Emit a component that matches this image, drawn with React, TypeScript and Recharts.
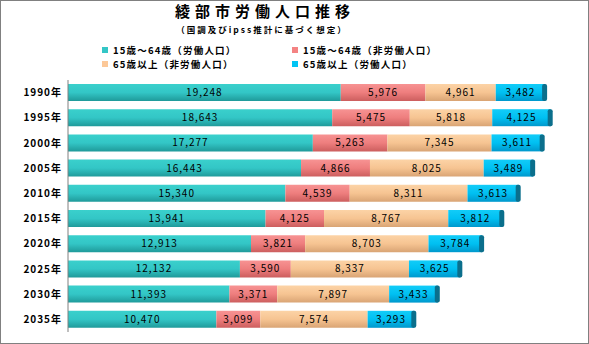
import React from "react";
import { BarChart, Bar, XAxis, YAxis, LabelList } from "recharts";

const years = ["1990年", "1995年", "2000年", "2005年", "2010年", "2015年", "2020年", "2025年", "2030年", "2035年"];
const workingAgeLabor = [19248, 18643, 17277, 16443, 15340, 13941, 12913, 12132, 11393, 10470];
const workingAgeNonLabor = [5976, 5475, 5263, 4866, 4539, 4125, 3821, 3590, 3371, 3099];
const elderlyNonLabor = [4961, 5818, 7345, 8025, 8311, 8767, 8703, 8337, 7897, 7574];
const elderlyLabor = [3482, 4125, 3611, 3489, 3613, 3812, 3784, 3625, 3433, 3293];

const seriesNames = [
  "15歳～64歳（労働人口）",
  "15歳～64歳（非労働人口）",
  "65歳以上（非労働人口）",
  "65歳以上（労働人口）",
];

const data = years.map((y, i) => ({
  year: y,
  a: workingAgeLabor[i],
  b: workingAgeNonLabor[i],
  c: elderlyNonLabor[i],
  d: elderlyLabor[i],
}));

const FONT = '"Noto Sans CJK JP", "Noto Sans", sans-serif';

const fmt = (v: any) => Number(v).toLocaleString("en-US");

const CapShape = (props: any) => {
  const { x, y, width, height } = props;
  return (
    <g>
      <rect x={x} y={y} width={width} height={height} fill="url(#gd)" />
      <rect x={x + width - 3} y={y} width={5} height={height} rx={2} fill="#0B6F8C" />
    </g>
  );
};

const legendItems = [
  { name: seriesNames[0], color: "#33C6C6", left: 102, top: 44 },
  { name: seriesNames[1], color: "#F48383", left: 292, top: 44 },
  { name: seriesNames[2], color: "#FCC898", left: 102, top: 58 },
  { name: seriesNames[3], color: "#00C4F4", left: 292, top: 58 },
];

export default function App() {
  return (
    <div
      style={{
        position: "fixed",
        left: 0,
        top: 0,
        width: 589,
        height: 344,
        background: "#fff",
        fontFamily: FONT,
      }}
    >
      <div
        style={{
          position: "absolute",
          left: 0,
          top: 0,
          width: 587,
          height: 342,
          border: "1px solid #808080",
          pointerEvents: "none",
        }}
      />
      <div
        style={{
          position: "absolute",
          left: 4,
          top: 2,
          width: 522,
          textAlign: "center",
          fontSize: 15,
          fontWeight: 700,
          letterSpacing: 5,
          lineHeight: "18px",
        }}
      >
        綾部市労働人口推移
      </div>
      <div
        style={{
          position: "absolute",
          left: 1,
          top: 24,
          width: 522,
          textAlign: "center",
          fontSize: 8.5,
          fontWeight: 700,
          letterSpacing: 2,
          lineHeight: "10px",
        }}
      >
        （国調及びipss推計に基づく想定）
      </div>
      {legendItems.map((it) => (
        <div
          key={it.name}
          style={{
            position: "absolute",
            left: it.left,
            top: it.top,
            display: "flex",
            alignItems: "center",
            fontSize: 9.5,
            fontWeight: 700,
            letterSpacing: 1.2,
            lineHeight: "12px",
            whiteSpace: "nowrap",
          }}
        >
          <span style={{ display: "inline-block", width: 6, height: 6, background: it.color, marginRight: 5 }} />
          {it.name}
        </div>
      ))}
      <div style={{ position: "absolute", left: 0, top: 0 }}>
        <BarChart
          width={589}
          height={344}
          data={data}
          layout="vertical"
          margin={{ top: 80, right: 25, bottom: 12, left: 0 }}
          barSize={17}
        >
          <defs>
            <linearGradient id="ga" x1="0" y1="0" x2="0" y2="1">
              <stop offset="0" stopColor="#3AD0CC" />
              <stop offset="0.5" stopColor="#33C6C6" />
              <stop offset="1" stopColor="#1F9A9A" />
            </linearGradient>
            <linearGradient id="gb" x1="0" y1="0" x2="0" y2="1">
              <stop offset="0" stopColor="#F79393" />
              <stop offset="0.5" stopColor="#EE7E7E" />
              <stop offset="1" stopColor="#CC5E5E" />
            </linearGradient>
            <linearGradient id="gc" x1="0" y1="0" x2="0" y2="1">
              <stop offset="0" stopColor="#FCD3A6" />
              <stop offset="0.5" stopColor="#F6C492" />
              <stop offset="1" stopColor="#D9A474" />
            </linearGradient>
            <linearGradient id="gd" x1="0" y1="0" x2="0" y2="1">
              <stop offset="0" stopColor="#12CCF8" />
              <stop offset="0.5" stopColor="#00C0F2" />
              <stop offset="1" stopColor="#0098CC" />
            </linearGradient>
          </defs>
          <XAxis type="number" domain={[0, 35000]} hide />
          <YAxis
            type="category"
            dataKey="year"
            width={68}
            tickLine={false}
            tickSize={0}
            tickMargin={6}
            axisLine={{ stroke: "#808080" }}
            tick={{ fill: "#000", fontSize: 10, fontWeight: 700, fontFamily: FONT, letterSpacing: 1 } as any}
            padding={{ top: 0, bottom: 0 }}
          />
          <Bar dataKey="a" stackId="s" fill="url(#ga)" isAnimationActive={false}>
            <LabelList dataKey="a" position="center" formatter={fmt} fill="#000" fontSize={10} fontFamily={FONT} style={{ letterSpacing: 1 }} />
          </Bar>
          <Bar dataKey="b" stackId="s" fill="url(#gb)" isAnimationActive={false}>
            <LabelList dataKey="b" position="center" formatter={fmt} fill="#000" fontSize={10} fontFamily={FONT} style={{ letterSpacing: 1 }} />
          </Bar>
          <Bar dataKey="c" stackId="s" fill="url(#gc)" isAnimationActive={false}>
            <LabelList dataKey="c" position="center" formatter={fmt} fill="#000" fontSize={10} fontFamily={FONT} style={{ letterSpacing: 1 }} />
          </Bar>
          <Bar dataKey="d" stackId="s" fill="url(#gd)" shape={<CapShape />} isAnimationActive={false}>
            <LabelList dataKey="d" position="center" formatter={fmt} fill="#000" fontSize={10} fontFamily={FONT} style={{ letterSpacing: 1 }} />
          </Bar>
        </BarChart>
      </div>
    </div>
  );
}
